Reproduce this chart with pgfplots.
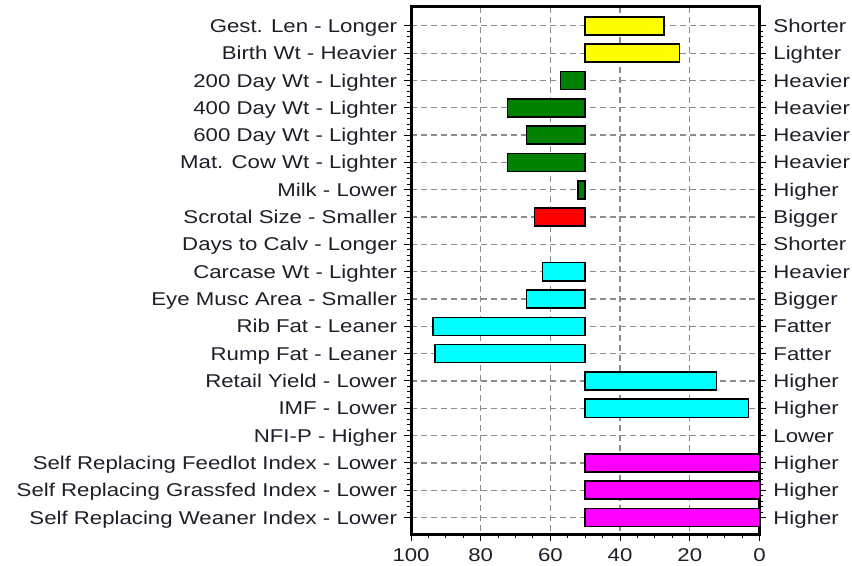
\documentclass[border=0pt]{standalone}
\usepackage{fontspec}
\setmainfont{Liberation Sans}[FakeStretch=1.2]
\usepackage{pgfplots}
\pgfplotsset{compat=1.18}
\usepackage{pgfplotstable}

\definecolor{txt}{HTML}{1E1E2A}
\definecolor{gridgray}{HTML}{8C8C8C}
\definecolor{cYellow}{RGB}{255,255,0}
\definecolor{cGreen}{RGB}{0,128,0}
\definecolor{cRed}{RGB}{255,0,0}
\definecolor{cCyan}{RGB}{0,255,255}
\definecolor{cMagenta}{RGB}{255,0,255}

% values on the original reversed scale (100 at left, 0 at right); bars start at 50
\pgfplotstableread{
row val
0 27.4
1 22.9
}\yellowdata
\pgfplotstableread{
row val
2 57.1
3 72.3
4 66.9
5 72.3
6 52.0
}\greendata
\pgfplotstableread{
row val
7 64.6
}\reddata
\pgfplotstableread{
row val
9 62.3
10 66.9
11 93.7
12 93.1
13 12.3
14 3.1
}\cyandata
\pgfplotstableread{
row val
16 0
17 0
18 0
}\magentadata

\pgfplotsset{
  common/.style={
    scale only axis, width=175pt, height=265pt,
    xmin=-50, xmax=50,
    ymin=-0.69, ymax=18.62, y dir=reverse,
    ytick={0,...,18},
    minor y tick num=4,
    tick align=outside,
    major tick length=3.5pt, minor tick length=2pt,
    tick style={black, line width=0.5pt},
    ticklabel style={font=\fontsize{9.3}{11}\selectfont, text=txt},
    yticklabel style={text height=7.8pt, text depth=1.2pt},
    /pgf/number format/assume math mode=true,
  },
  barsty/.style={xbar, bar shift=0pt, bar width=0.66, draw=black, line width=0.8pt},
}

\begin{document}
\begin{tikzpicture}
\begin{axis}[
  common, name=main,
  xtick={-50,-30,-10,10,30,50},
  xticklabels={100,80,60,40,20,0},
  minor x tick num=3,
  xtick pos=bottom, ytick pos=left,
  xmajorgrids, ymajorgrids,
  major grid style={gridgray, line width=0.6pt, dash pattern=on 3pt off 2pt},
  axis line style={line width=1.5pt},
  yticklabels={
    Gest. Len - Longer,
    Birth Wt - Heavier,
    200 Day Wt - Lighter,
    400 Day Wt - Lighter,
    600 Day Wt - Lighter,
    Mat. Cow Wt - Lighter,
    Milk - Lower,
    Scrotal Size - Smaller,
    Days to Calv - Longer,
    Carcase Wt - Lighter,
    Eye Musc Area - Smaller,
    Rib Fat - Leaner,
    Rump Fat - Leaner,
    Retail Yield - Lower,
    IMF - Lower,
    NFI-P - Higher,
    Self Replacing Feedlot Index - Lower,
    Self Replacing Grassfed Index - Lower,
    Self Replacing Weaner Index - Lower},
]
\addplot[barsty, fill=cYellow] table[x expr={50-\thisrow{val}}, y=row]{\yellowdata};
\addplot[barsty, fill=cGreen] table[x expr={50-\thisrow{val}}, y=row]{\greendata};
\addplot[barsty, fill=cRed] table[x expr={50-\thisrow{val}}, y=row]{\reddata};
\addplot[barsty, fill=cCyan] table[x expr={50-\thisrow{val}}, y=row]{\cyandata};
\addplot[barsty, fill=cMagenta] table[x expr={50-\thisrow{val}}, y=row]{\magentadata};
\end{axis}
\begin{axis}[
  common, at={(main.south west)}, anchor=south west,
  xtick=\empty,
  ytick pos=right, yticklabel pos=right,
  axis line style={draw=none},
  yticklabels={Shorter,Lighter,Heavier,Heavier,Heavier,Heavier,Higher,Bigger,Shorter,Heavier,Bigger,Fatter,Fatter,Higher,Higher,Lower,Higher,Higher,Higher},
]
\end{axis}
\pgfresetboundingbox
\path ([xshift=-206.5pt,yshift=-15.5pt]main.south west) rectangle ([xshift=46.5pt,yshift=3.5pt]main.north east);
\end{tikzpicture}
\end{document}
